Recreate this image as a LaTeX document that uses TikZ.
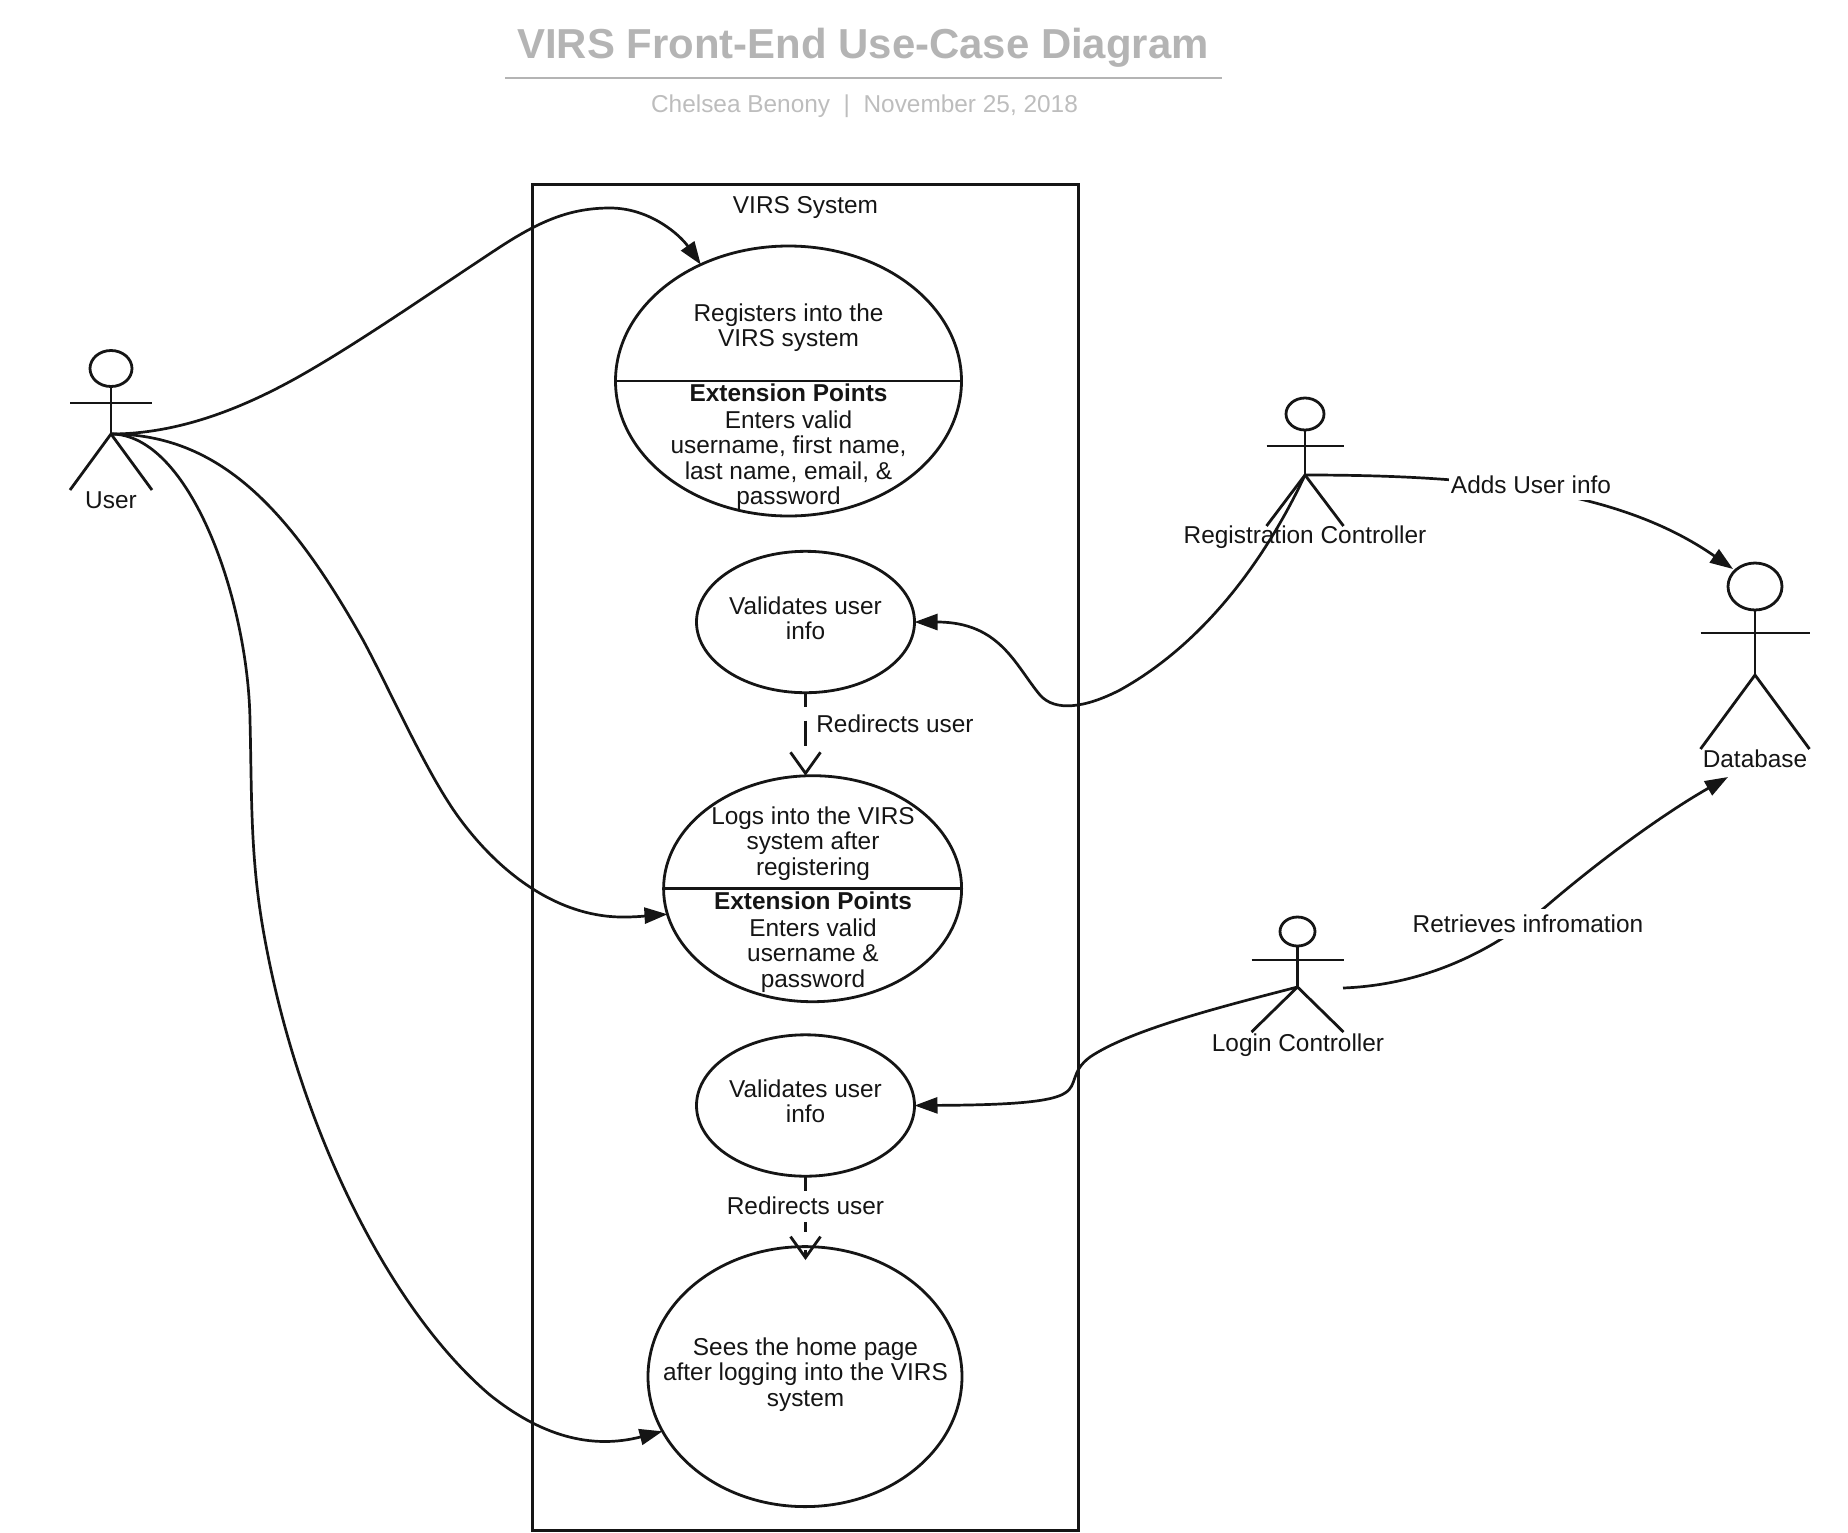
\documentclass[tikz,border=0pt]{standalone}
\usepackage{fontspec}
\setmainfont{Liberation Sans}
\usetikzlibrary{shapes.geometric,arrows.meta,calc}
\definecolor{ink}{HTML}{151515}
\definecolor{titlegray}{HTML}{B4B4B4}
\definecolor{subgray}{HTML}{BDBDBD}
\tikzset{
  lbl/.style={inner sep=0pt,outer sep=0pt,align=center,text=ink,font=\fontsize{12.2}{12.7}\selectfont},
  usecase/.style={draw=ink,line width=1.4pt,ellipse,inner sep=0pt,outer sep=0pt},
  actorhead/.style={draw=ink,line width=1.4pt,ellipse,inner sep=0pt,outer sep=0pt},
  actorline/.style={draw=ink,line width=1.4pt},
  assoc/.style={draw=ink,line width=1.35pt,-{Triangle[length=11.5pt,width=8pt]}},
  depend/.style={draw=ink,line width=1.4pt,-{Straight Barb[length=10.5pt,width=15pt]}},
  flabel/.style={lbl,fill=white,inner xsep=1pt,inner ysep=3pt},
}
% name, cx, head cy, head rx, head ry, arm y, half width, hip y, leg y
\newcommand{\actorfig}[9]{%
  \node[actorhead,minimum width=#4pt,minimum height=#5pt] (#1-head) at (#2,#3) {};
  \coordinate (#1-hip) at (#2,#8);
  \coordinate (#1-larm) at (#2-#7,#6);
  \coordinate (#1-rarm) at (#2+#7,#6);
  \coordinate (#1-lleg) at (#2-#7,#9);
  \coordinate (#1-rleg) at (#2+#7,#9);
  \draw[actorline] (#1-head.south) -- (#1-hip);
  \draw[actorline] (#1-larm) -- (#1-rarm);
  \draw[actorline] (#1-lleg) -- (#1-hip) -- (#1-rleg);
}
\begin{document}
\begin{tikzpicture}[x=0.5pt,y=-0.5pt]
\useasboundingbox (0,0) rectangle (1848,1532);

% title block
\node[inner sep=0pt,text=titlegray,font=\fontsize{20.95}{24}\bfseries\selectfont] (title) at (863,47.5) {VIRS Front-End Use-Case Diagram};
\coordinate (ruleL) at (505,78);
\coordinate (ruleR) at (1222,78);
\draw[titlegray,line width=1pt] (ruleL) -- (ruleR);
\node[inner sep=0pt,text=subgray,font=\fontsize{12.2}{14}\selectfont] (subtitle) at (864.5,106) {Chelsea Benony\ \ |\ \ November 25, 2018};

% system boundary
\node[draw=ink,line width=1.5pt,inner sep=0pt,outer sep=0pt,minimum width=273pt,minimum height=673pt] (sys) at (805,857) {};
\node[lbl] (systitle) at (805.5,207.5) {VIRS System};

% use cases
\node[usecase,minimum width=173pt,minimum height=135pt] (e1) at (788.5,381) {};
\node[usecase,minimum width=109pt,minimum height=70.7pt] (e2) at (805.5,622) {};
\node[usecase,minimum width=149pt,minimum height=113pt] (e3) at (812.6,888.7) {};
\node[usecase,minimum width=109pt,minimum height=70.7pt] (e4) at (805.5,1105.5) {};
\node[usecase,minimum width=157pt,minimum height=130pt] (e5) at (805,1376.6) {};
\draw[actorline] (e1.west) -- (e1.east);
\draw[actorline] (e3.west) -- (e3.east);

\node[lbl] (e1top) at (788.5,327.5) {Registers into the\\VIRS system};
\node[lbl] (e1bot) at (788.5,447) {\textbf{Extension Points}\\[0.6pt]Enters valid\\username, first name,\\last name, email, \&\\password};
\node[lbl] (e2txt) at (805.5,618.5) {Validates user\\info};
\node[lbl] (e3top) at (813,843.5) {Logs into the VIRS\\system after\\registering};
\node[lbl] (e3bot) at (813,942) {\textbf{Extension Points}\\[0.6pt]Enters valid\\username \&\\password};
\node[lbl] (e4txt) at (805.5,1101) {Validates user\\info};
\node[lbl] (e5txt) at (805.5,1374.5) {Sees the home page\\after logging into the VIRS\\system};

% actors
\actorfig{user}{111}{368.5}{21}{18}{403}{41}{434}{490}
\actorfig{reg}{1305}{414}{19}{16}{446}{38.5}{475}{526}
\actorfig{db}{1755}{586.5}{27}{23.5}{633}{54.5}{675}{749}
\actorfig{login}{1297.5}{931.5}{17.5}{14.5}{960}{46}{987}{1032}
\node[lbl] (userlbl) at (111,500) {User};
\node[lbl] (reglbl) at (1305,537) {Registration Controller};
\node[lbl] (dblbl) at (1755,759) {Database};
\node[lbl] (loginlbl) at (1298,1045.5) {Login Controller};

% associations from User
\draw[assoc] (user-hip) .. controls (180,434) and (245,407) .. (300,376)
  .. controls (360,342) and (430,293) .. (500,247)
  .. controls (540,221) and (570,208) .. (610,208)
  .. controls (650,208) and (680,235) .. (e1.127);
\draw[assoc] (user-hip) .. controls (220,434) and (290,510) .. (363,640)
  .. controls (390,690) and (425,770) .. (457,815)
  .. controls (500,875) and (560,918) .. (625,917)
  .. controls (640,917) and (655,915) .. (e3.190);
\draw[assoc] (user-hip) .. controls (190,434) and (248,600) .. (250,720)
  .. controls (252,800) and (250,860) .. (265,940)
  .. controls (300,1130) and (390,1310) .. (490,1395)
  .. controls (540,1435) and (590,1450) .. (e5.201.4);

% controllers
\draw[assoc] (reg-hip) .. controls (1270,550) and (1210,640) .. (1120,690)
  .. controls (1085,708) and (1055,712) .. (1040,695)
  .. controls (1015,665) and (1000,622) .. (e2.east);
\draw[assoc] (login-hip) .. controls (1220,1007) and (1130,1030) .. (1090,1057)
  .. controls (1070,1072) and (1078,1085) .. (1065,1093)
  .. controls (1050,1103) and (1000,1105) .. (e4.east);

\coordinate (dbIn) at (1733,569);
\draw[assoc] (reg-hip) .. controls (1480,475) and (1620,490) .. (dbIn);
\node[flabel] (addslbl) at (1531,485) {Adds User info};

\coordinate (loginOut) at (1343,988);
\coordinate (dbBelow) at (1728,777);
\draw[assoc] (loginOut) .. controls (1420,985) and (1490,955) .. (1550,903)
  .. controls (1610,852) and (1670,810) .. (dbBelow);
\node[flabel] (retrlbl) at (1528,924) {Retrieves infromation};

% dependencies
\draw[depend,dash pattern=on 7pt off 7pt on 12.5pt off 60pt] (e2.south) -- (e2.south |- e3.north);
\node[lbl] (redir1) at (895,724) {Redirects user};
\coordinate (e5tip) at (805.5,1260);
\draw[depend,dash pattern=on 8pt off 15pt on 5pt off 9pt on 6pt off 30pt] (e4.south) -- (e5tip);
\node[flabel] (redir2) at (805.5,1206) {Redirects user};
\end{tikzpicture}
\end{document}
